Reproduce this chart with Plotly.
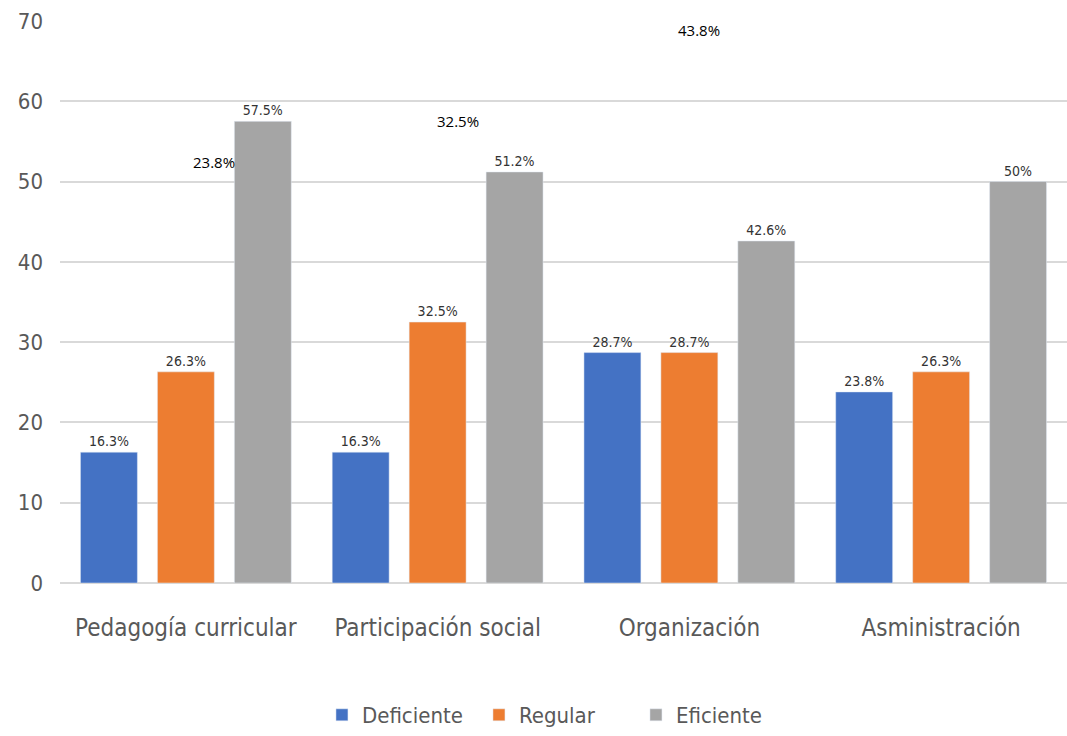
import plotly.graph_objects as go

categories = ["Pedagogía curricular", "Participación social", "Organización", "Asministración"]
deficiente = [16.3, 16.3, 28.7, 23.8]
regular = [26.3, 32.5, 28.7, 26.3]
eficiente = [57.5, 51.2, 42.6, 50]
deficiente_labels = ["16.3%", "16.3%", "28.7%", "23.8%"]
regular_labels = ["26.3%", "32.5%", "28.7%", "26.3%"]
eficiente_labels = ["57.5%", "51.2%", "42.6%", "50%"]
y_ticks = [0, 10, 20, 30, 40, 50, 60, 70]

# stray labels overlaid on the picture (category index offset, value)
stray_text = ["23.8%", "32.5%", "43.8%"]
stray_x = [0.11, 1.08, 2.04]
stray_y = [52.4, 57.5, 68.9]

font_fam = "DejaVu Sans Condensed, Liberation Sans Narrow, Roboto, sans-serif"

fig = go.Figure()
series = [
    ("Deficiente", deficiente, deficiente_labels, "#4472C4"),
    ("Regular", regular, regular_labels, "#ED7D31"),
    ("Eficiente", eficiente, eficiente_labels, "#A5A5A5"),
]
for name, vals, labels, col in series:
    fig.add_trace(go.Bar(
        name=name, x=categories, y=vals, marker_color=col,
        text=labels, textposition="outside", cliponaxis=False,
        textfont=dict(family=font_fam, size=14, color="#333333"),
    ))

for t, xx, yy in zip(stray_text, stray_x, stray_y):
    fig.add_annotation(x=xx, y=yy, xref="x", yref="y", text=t, showarrow=False,
                       font=dict(family="Open Sans, Liberation Sans, sans-serif", size=15, color="#000000"))

fig.update_layout(
    width=1067, height=736,
    margin=dict(l=60, r=0, t=21, b=152),
    paper_bgcolor="white", plot_bgcolor="white",
    barmode="group", bargap=0.083, bargroupgap=0.26,
    showlegend=True,
    legend=dict(orientation="h", x=0.494, xanchor="center", y=-0.235, yanchor="middle",
                font=dict(family=font_fam, size=22, color="#595959"),
                itemwidth=30, traceorder="normal",
                entrywidth=112, entrywidthmode="pixels"),
)
fig.update_xaxes(
    showgrid=False, showline=False, zeroline=False,
    tickfont=dict(family=font_fam, size=24, color="#595959"),
    ticklabelstandoff=28,
)
fig.update_yaxes(
    range=[0, 70], tickvals=y_ticks, showgrid=True, gridcolor="#D9D9D9", gridwidth=2,
    zeroline=True, zerolinecolor="#D9D9D9", zerolinewidth=2, showline=False,
    tickfont=dict(family=font_fam, size=22, color="#595959"),
    ticklabelstandoff=16,
)

fig.write_html("out.html")
